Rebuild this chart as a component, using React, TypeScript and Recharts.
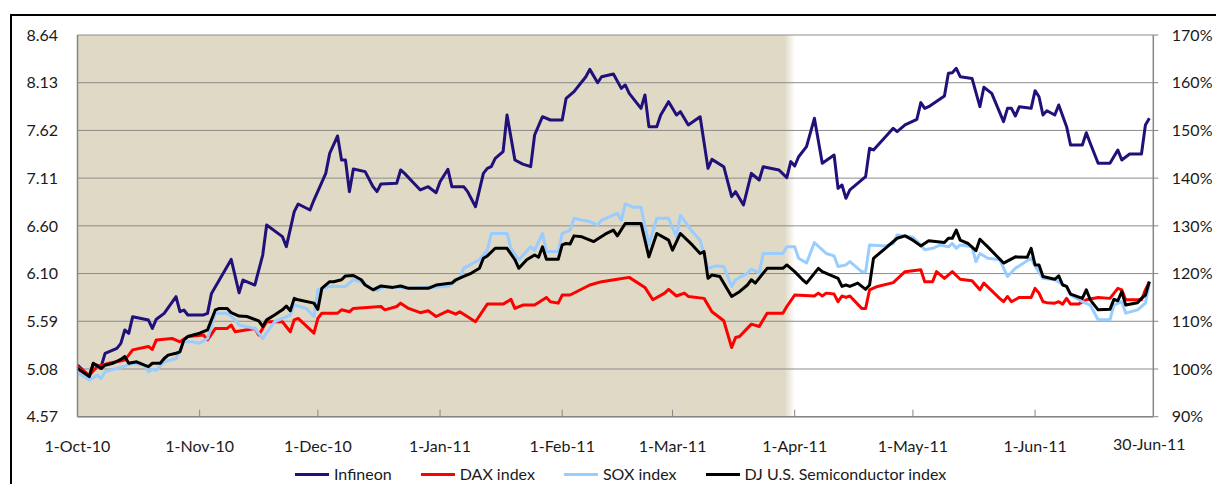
import React from 'react';
import { LineChart, Line, XAxis, YAxis, CartesianGrid, ReferenceArea } from 'recharts';

// X axis: days after 1-Oct-2010
const xTickDays = [0, 31, 61, 92, 123, 151, 182, 212, 243, 272];
const xTickLabels = ['1-Oct-10', '1-Nov-10', '1-Dec-10', '1-Jan-11', '1-Feb-11', '1-Mar-11', '1-Apr-11', '1-May-11', '1-Jun-11', '30-Jun-11'];
const xDomain = [0, 273];

// Left axis: Infineon share price (EUR); right axis: relative performance
const leftTicks = [4.572, 5.08, 5.588, 6.096, 6.604, 7.112, 7.62, 8.128, 8.636];
const rightTicks = [90, 100, 110, 120, 130, 140, 150, 160, 170];

// Shaded period (1-Oct-10 .. 1-Apr-11)
const shadeFromDay = 0;
const shadeToDay = 182;

const infineonDays = [0, 3, 4, 6, 7, 10, 11, 12, 13, 14, 18, 19, 20, 22, 25, 26, 27, 28, 32, 33, 34, 39, 41, 42, 45, 47, 48, 52, 53, 55, 56, 59, 60, 63, 64, 66, 67, 68, 69, 70, 73, 75, 76, 77, 81, 82, 83, 85, 87, 89, 91, 92, 94, 95, 98, 99, 101, 103, 104, 105, 106, 108, 109, 111, 113, 115, 116, 118, 120, 123, 124, 126, 129, 130, 132, 133, 136, 138, 139, 140, 143, 144, 145, 147, 148, 150, 152, 153, 155, 158, 160, 161, 164, 166, 167, 169, 171, 173, 174, 178, 180, 181, 182, 183, 185, 187, 189, 192, 193, 194, 195, 196, 200, 201, 202, 207, 208, 210, 213, 214, 215, 216, 220, 221, 222, 223, 224, 227, 229, 230, 232, 235, 236, 237, 238, 239, 242, 243, 244, 245, 246, 248, 249, 251, 252, 255, 256, 257, 259, 262, 264, 265, 267, 270, 271, 272];
const infineonPrice = [5.122, 5.005, 5.133, 5.105, 5.246, 5.3, 5.353, 5.495, 5.459, 5.637, 5.601, 5.513, 5.61, 5.672, 5.85, 5.69, 5.708, 5.655, 5.655, 5.672, 5.885, 6.247, 5.892, 6.027, 5.974, 6.293, 6.613, 6.489, 6.382, 6.755, 6.837, 6.773, 6.879, 7.163, 7.376, 7.561, 7.305, 7.305, 6.968, 7.209, 7.181, 7.021, 6.968, 7.05, 7.057, 7.199, 7.163, 7.074, 6.986, 7.021, 6.957, 7.074, 7.206, 7.021, 7.021, 6.968, 6.808, 7.163, 7.216, 7.234, 7.323, 7.394, 7.784, 7.305, 7.262, 7.234, 7.571, 7.766, 7.731, 7.731, 7.962, 8.033, 8.192, 8.27, 8.128, 8.192, 8.221, 8.068, 8.104, 8.015, 7.855, 7.998, 7.66, 7.66, 7.784, 7.926, 7.784, 7.82, 7.678, 7.766, 7.216, 7.312, 7.234, 6.915, 6.968, 6.826, 7.163, 7.092, 7.234, 7.199, 7.117, 7.288, 7.241, 7.34, 7.447, 7.749, 7.27, 7.358, 7.003, 7.039, 6.897, 6.986, 7.128, 7.43, 7.412, 7.642, 7.607, 7.678, 7.738, 7.916, 7.855, 7.873, 7.987, 8.228, 8.235, 8.281, 8.192, 8.174, 7.873, 8.079, 8.015, 7.713, 7.855, 7.855, 7.774, 7.873, 7.855, 8.043, 7.979, 7.784, 7.83, 7.784, 7.891, 7.66, 7.465, 7.465, 7.596, 7.483, 7.27, 7.27, 7.412, 7.305, 7.369, 7.369, 7.678, 7.749];

const daxDays = [0, 3, 5, 8, 12, 13, 14, 18, 19, 20, 24, 26, 28, 32, 33, 35, 38, 39, 40, 45, 46, 48, 52, 54, 55, 56, 60, 61, 62, 66, 67, 69, 70, 77, 78, 81, 82, 84, 87, 89, 91, 94, 96, 97, 101, 104, 108, 110, 111, 113, 116, 119, 120, 122, 123, 125, 130, 133, 137, 140, 144, 146, 149, 150, 152, 154, 155, 159, 161, 164, 166, 167, 168, 171, 173, 175, 179, 180, 182, 187, 188, 189, 190, 192, 193, 194, 195, 196, 199, 200, 201, 203, 207, 210, 214, 215, 217, 218, 220, 222, 224, 227, 229, 230, 234, 235, 236, 237, 239, 242, 243, 244, 245, 246, 248, 249, 250, 251, 252, 254, 256, 259, 262, 264, 265, 266, 270, 271, 272];
const daxPct = [100.5, 98.7, 100.5, 101.2, 101.9, 102.9, 104.0, 104.7, 104.1, 106.1, 106.4, 105.7, 106.8, 107.1, 106.1, 108.5, 108.5, 109.2, 107.8, 108.5, 107.1, 109.9, 109.9, 107.8, 110.3, 110.6, 107.5, 110.6, 111.7, 111.7, 112.4, 112.0, 112.7, 113.1, 112.4, 113.1, 113.8, 112.7, 111.8, 112.2, 111.0, 112.2, 111.5, 112.0, 109.9, 113.6, 113.6, 114.6, 112.7, 113.4, 113.4, 115.0, 114.1, 113.8, 115.5, 115.5, 117.6, 118.3, 118.8, 119.2, 117.1, 114.5, 115.9, 116.7, 115.3, 115.9, 115.2, 114.8, 112.0, 110.1, 104.5, 106.6, 106.8, 109.4, 108.9, 111.7, 111.7, 113.1, 115.5, 115.3, 115.9, 115.3, 115.9, 115.7, 114.1, 115.3, 115.0, 115.3, 112.7, 112.7, 116.6, 117.3, 118.1, 120.4, 120.8, 118.3, 118.3, 120.4, 119.0, 120.4, 118.8, 118.5, 116.6, 118.0, 114.8, 114.1, 115.2, 114.1, 115.0, 115.0, 116.9, 115.9, 114.1, 113.9, 113.8, 114.1, 113.6, 114.8, 113.6, 113.6, 114.5, 115.0, 114.8, 116.9, 116.6, 114.5, 114.5, 116.6, 118.3];

const soxDays = [0, 3, 5, 6, 7, 10, 12, 14, 17, 18, 19, 20, 22, 25, 27, 29, 31, 33, 35, 38, 40, 41, 45, 47, 50, 52, 54, 55, 58, 60, 61, 64, 68, 70, 72, 75, 76, 78, 82, 84, 94, 97, 98, 102, 104, 105, 109, 110, 112, 115, 116, 118, 119, 122, 123, 125, 126, 128, 130, 132, 133, 137, 138, 139, 141, 143, 145, 147, 150, 152, 153, 156, 158, 160, 162, 164, 166, 167, 170, 171, 173, 174, 179, 180, 182, 183, 185, 187, 190, 192, 193, 195, 196, 199, 200, 201, 205, 207, 208, 212, 214, 215, 217, 219, 221, 222, 223, 224, 227, 228, 229, 231, 234, 236, 238, 242, 243, 245, 248, 251, 252, 255, 257, 259, 262, 263, 265, 266, 269, 271, 272];
const soxPct = [99.2, 97.7, 98.7, 98.0, 99.4, 100.1, 100.6, 101.2, 100.8, 99.4, 99.9, 99.7, 101.5, 102.2, 105.7, 105.7, 105.4, 106.4, 111.7, 111.7, 110.3, 109.2, 108.5, 106.4, 109.9, 110.6, 111.3, 113.4, 112.7, 111.0, 116.6, 117.3, 117.3, 118.7, 118.3, 116.6, 116.4, 117.3, 117.1, 116.9, 117.3, 119.0, 121.1, 122.9, 124.9, 128.4, 128.4, 125.3, 122.9, 125.6, 124.9, 128.4, 124.6, 124.6, 128.4, 129.1, 131.6, 131.2, 130.9, 130.2, 131.2, 132.6, 131.2, 134.6, 133.9, 133.9, 126.0, 131.6, 131.6, 127.7, 132.2, 128.8, 127.0, 121.1, 121.6, 121.5, 117.3, 118.7, 120.1, 120.9, 120.1, 124.2, 124.2, 125.6, 125.6, 123.2, 122.2, 126.5, 124.2, 123.7, 121.5, 121.8, 122.5, 120.4, 120.4, 126.0, 125.8, 126.3, 128.1, 127.6, 126.0, 125.0, 125.3, 126.0, 125.6, 126.3, 125.3, 126.0, 125.6, 122.5, 124.2, 123.2, 122.9, 119.4, 121.1, 123.2, 121.6, 119.0, 118.7, 117.3, 115.5, 114.1, 113.4, 110.3, 110.3, 113.4, 114.1, 111.7, 112.4, 113.8, 118.0];

const djDays = [0, 3, 4, 6, 7, 9, 11, 12, 13, 15, 17, 18, 19, 21, 22, 23, 25, 26, 27, 28, 31, 33, 35, 36, 38, 39, 41, 43, 46, 47, 48, 50, 52, 53, 54, 55, 56, 60, 61, 62, 64, 65, 67, 68, 70, 72, 73, 75, 77, 80, 82, 84, 89, 91, 95, 96, 98, 100, 102, 103, 104, 106, 109, 111, 112, 114, 116, 117, 118, 119, 122, 123, 124, 125, 126, 128, 131, 134, 136, 137, 139, 143, 145, 147, 150, 151, 153, 156, 158, 159, 160, 161, 163, 166, 168, 170, 171, 172, 175, 179, 180, 182, 184, 185, 188, 189, 193, 194, 195, 196, 198, 200, 201, 202, 205, 208, 210, 212, 214, 216, 220, 221, 222, 223, 224, 226, 228, 229, 231, 235, 238, 241, 242, 243, 244, 245, 248, 249, 250, 251, 252, 255, 256, 257, 259, 262, 263, 264, 265, 266, 269, 270, 271, 272];
const djPct = [100.1, 98.4, 101.2, 100.1, 100.8, 101.2, 102.0, 102.6, 101.2, 101.5, 100.8, 100.5, 101.2, 101.2, 102.2, 102.9, 103.3, 103.6, 106.1, 106.8, 107.5, 108.2, 112.4, 112.7, 112.7, 111.8, 111.1, 111.0, 110.1, 108.9, 110.3, 111.3, 112.4, 113.2, 112.2, 114.8, 114.5, 113.8, 112.5, 116.9, 118.3, 118.3, 118.7, 119.5, 119.6, 118.7, 117.6, 116.6, 117.4, 117.1, 117.4, 116.9, 116.9, 117.6, 118.0, 118.7, 119.4, 120.1, 121.1, 123.2, 123.7, 125.3, 125.3, 122.9, 121.1, 122.9, 123.9, 123.4, 125.6, 123.0, 123.0, 126.0, 126.3, 126.2, 127.9, 127.7, 126.7, 128.3, 129.1, 127.9, 130.5, 130.5, 123.5, 128.4, 127.0, 124.9, 128.4, 126.0, 124.2, 124.6, 119.0, 119.7, 119.4, 115.2, 116.2, 117.6, 118.7, 118.0, 121.1, 121.1, 121.8, 120.4, 118.7, 118.0, 121.1, 120.4, 119.0, 117.3, 117.6, 117.3, 118.0, 116.7, 117.6, 123.2, 125.3, 127.4, 127.9, 127.0, 125.8, 126.9, 126.5, 127.4, 127.4, 129.1, 127.0, 126.3, 124.8, 127.2, 125.6, 122.2, 123.5, 123.4, 125.3, 121.8, 121.8, 119.4, 118.8, 119.5, 117.6, 117.3, 115.7, 114.8, 116.6, 114.5, 112.4, 112.5, 114.6, 114.3, 116.2, 113.4, 113.9, 114.8, 115.5, 118.3];

const seriesNames = ['Infineon', 'DAX index', 'SOX index', 'DJ U.S. Semiconductor index'];
const seriesColors = ['#20107A', '#FF0000', '#99CCFF', '#000000'];

const toPoints = (days: number[], vals: number[]) => days.map((d, i) => ({ d, v: vals[i] }));
const infineonData = toPoints(infineonDays, infineonPrice);
const daxData = toPoints(daxDays, daxPct);
const soxData = toPoints(soxDays, soxPct);
const djData = toPoints(djDays, djPct);

const FONT = 'Lato, "Open Sans", sans-serif';
const AXIS_GRAY = '#868686';

const XTick = (props: any) => {
  const { x, y, payload } = props;
  const i = xTickDays.indexOf(payload.value);
  const label = i >= 0 ? xTickLabels[i] : '';
  const last = i === xTickDays.length - 1;
  return (
    <g>
      {i > 0 && !last && <line x1={x} x2={x} y1={y} y2={y - 7} stroke={AXIS_GRAY} strokeWidth={1} />}
      <text x={x} y={y + (last ? 28 : 30)} dy="0.355em" textAnchor="middle" fontSize={16} fill="#1a1a1a" fontFamily={FONT}>
        {label}
      </text>
    </g>
  );
};

export default function App() {
  return (
    <div style={{ position: 'relative', width: 1216, height: 476, fontFamily: FONT }}>
      <div
        style={{
          position: 'absolute', left: 2, top: 6, width: 1214, height: 470,
          borderTop: '2px solid #000', borderLeft: '2px solid #000', boxSizing: 'border-box',
        }}
      />
      <div style={{ position: 'absolute', left: 0, top: 0 }}>
        <LineChart width={1216} height={468} margin={{ top: 27, right: 0, left: 0, bottom: 0 }}>
          <defs>
            <linearGradient id="shadeFill" x1="0" y1="0" x2="1" y2="0">
              <stop offset="0%" stopColor="#E0D9C5" />
              <stop offset="98.6%" stopColor="#E0D9C5" />
              <stop offset="100%" stopColor="#FFFFFF" />
            </linearGradient>
          </defs>
          <ReferenceArea
            x1={shadeFromDay}
            x2={shadeToDay}
            yAxisId="right"
            fill="url(#shadeFill)"
            fillOpacity={1}
            stroke="none"
            zIndex={-200}
          />
          <CartesianGrid yAxisId="left" vertical={false} stroke="#8C8C8C" strokeWidth={1} />
          <XAxis
            dataKey="d"
            type="number"
            domain={xDomain}
            ticks={xTickDays}
            interval={0}
            allowDuplicatedCategory={false}
            height={59.3}
            tickSize={0}
            tickMargin={0}
            tickLine={false}
            axisLine={{ stroke: AXIS_GRAY, strokeWidth: 1.5 }}
            tick={<XTick />}
          />
          <YAxis
            yAxisId="left"
            orientation="left"
            type="number"
            domain={[leftTicks[0], leftTicks[leftTicks.length - 1]]}
            ticks={leftTicks}
            interval={0}
            width={69.5}
            tickSize={0}
            tickMargin={19.5}
            tickLine={false}
            axisLine={{ stroke: AXIS_GRAY, strokeWidth: 1.5 }}
            tickFormatter={(v: number) => v.toFixed(2)}
            tick={{ fontSize: 16, fill: '#1a1a1a', fontFamily: FONT }}
          />
          <YAxis
            yAxisId="right"
            orientation="right"
            type="number"
            domain={[rightTicks[0], rightTicks[rightTicks.length - 1]]}
            ticks={rightTicks}
            interval={0}
            width={70.7}
            tickSize={5}
            tickMargin={13.5}
            tickLine={{ stroke: AXIS_GRAY }}
            axisLine={{ stroke: AXIS_GRAY, strokeWidth: 1.5 }}
            tickFormatter={(v: number) => `${v}%`}
            tick={{ fontSize: 16, fill: '#1a1a1a', fontFamily: FONT, textAnchor: 'start' }}
          />
          <Line data={infineonData} dataKey="v" yAxisId="left" type="linear" stroke={seriesColors[0]} strokeWidth={3} dot={false} isAnimationActive={false} strokeLinejoin="round" />
          <Line data={daxData} dataKey="v" yAxisId="right" type="linear" stroke={seriesColors[1]} strokeWidth={3} dot={false} isAnimationActive={false} strokeLinejoin="round" />
          <Line data={soxData} dataKey="v" yAxisId="right" type="linear" stroke={seriesColors[2]} strokeWidth={3} dot={false} isAnimationActive={false} strokeLinejoin="round" />
          <Line data={djData} dataKey="v" yAxisId="right" type="linear" stroke={seriesColors[3]} strokeWidth={3} dot={false} isAnimationActive={false} strokeLinejoin="round" />
        </LineChart>
      </div>
      <div style={{ position: 'absolute', left: 287, top: 456, height: 20, lineHeight: '20px', display: 'flex', alignItems: 'center', fontSize: 16, color: '#1a1a1a', whiteSpace: 'nowrap' }}>
        {seriesNames.map((name, i) => (
          <div key={name} style={{ display: 'flex', alignItems: 'center', marginRight: 29 }}>
            <span style={{ display: 'inline-block', width: 34, height: 3, background: seriesColors[i], marginRight: 5 }} />
            <span>{name}</span>
          </div>
        ))}
      </div>
    </div>
  );
}
